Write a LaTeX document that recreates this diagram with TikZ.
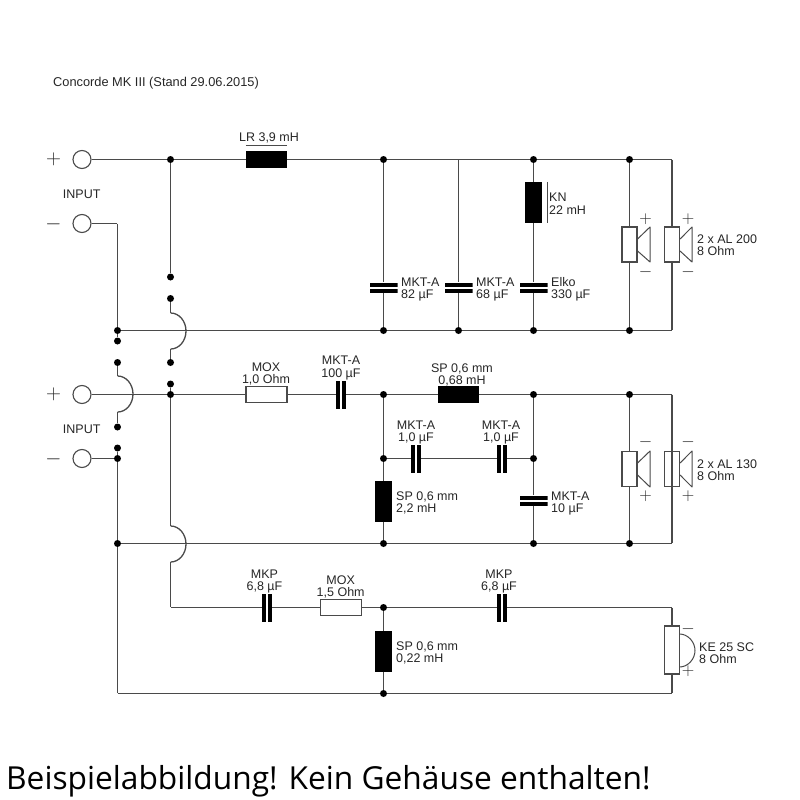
\documentclass[tikz,border=0pt]{standalone}
\usepackage{fontspec}
\setmainfont{Liberation Sans}
\newfontfamily\capfont{Open Sans}
\definecolor{wirec}{HTML}{4A4A4A}
\definecolor{textc}{HTML}{262626}
\tikzset{
  wire/.style={draw=wirec,line width=1.3pt},
  thinline/.style={draw=wirec,line width=1pt},
  jdot/.style={circle,fill=black,draw=none,minimum size=7pt,inner sep=0pt},
  corner/.style={inner sep=0pt,minimum size=0pt},
  term/.style={circle,draw=wirec,line width=1.1pt,fill=white,minimum size=18pt,inner sep=0pt},
  res/.style={rectangle,draw=wirec,line width=1.1pt,fill=white,minimum width=41pt,minimum height=16pt,inner sep=0pt},
  coilh/.style={rectangle,fill=black,minimum width=41pt,minimum height=17pt,inner sep=0pt},
  coilv/.style={rectangle,fill=black,minimum width=17pt,minimum height=41pt,inner sep=0pt},
  caph/.style={rectangle,fill=white,minimum width=10pt,minimum height=28pt,inner sep=0pt,
    path picture={\fill[black] (path picture bounding box.south west) rectangle ([xshift=4pt]path picture bounding box.north west);
      \fill[black] (path picture bounding box.south east) rectangle ([xshift=-4pt]path picture bounding box.north east);}},
  capv/.style={rectangle,fill=white,minimum width=28pt,minimum height=10pt,inner sep=0pt,
    path picture={\fill[black] (path picture bounding box.south west) rectangle ([yshift=4pt]path picture bounding box.south east);
      \fill[black] (path picture bounding box.north west) rectangle ([yshift=-4pt]path picture bounding box.north east);}},
  spk/.style={rectangle,draw=wirec,line width=1.1pt,fill=white,minimum width=15pt,minimum height=35pt,inner sep=0pt},
  tw/.style={rectangle,draw=wirec,line width=1.1pt,fill=white,minimum width=15pt,minimum height=48pt,inner sep=0pt},
  cone/.style={draw=wirec,line width=1pt,line join=round},
  lbl/.style={text=textc,inner sep=0pt,font=\fontsize{12.5}{12.4}\selectfont},
  lleft/.style={lbl,align=left,anchor=west,yshift=-1.2pt},
  lcent/.style={lbl,align=center,anchor=center,yshift=-1.2pt},
  sgnbig/.style={text=textc,inner sep=0pt,font=\fontsize{22.5}{24}\selectfont},
  sgn/.style={text=textc,inner sep=0pt,font=\fontsize{17}{18}\selectfont},
}
\begin{document}
\begin{tikzpicture}[x=1pt,y=-1pt]
\useasboundingbox (0,0) rectangle (800,800);
% terminals
\node[term] (ip1) at (82,159.5) {};
\node[term] (im1) at (82,223.5) {};
\node[term] (ip2) at (82,394.5) {};
\node[term] (im2) at (82,458.5) {};
% junctions
\node[jdot] (d1) at (170.5,159.5) {};
\node[jdot] (d2) at (170.5,277) {};
\node[jdot] (d3) at (170.5,298.5) {};
\node[jdot] (d4) at (170.5,362.5) {};
\node[jdot] (d5) at (170.5,384) {};
\node[jdot] (d6) at (170.5,394.5) {};
\node[jdot] (a1) at (117.5,330.5) {};
\node[jdot] (a2) at (117.5,341) {};
\node[jdot] (a3) at (117.5,362.5) {};
\node[jdot] (a4) at (117.5,427) {};
\node[jdot] (a5) at (117.5,448) {};
\node[jdot] (a6) at (117.5,458.5) {};
\node[jdot] (a7) at (117.5,543.5) {};
\node[jdot] (t1) at (383.5,159.5) {};
\node[jdot] (t3) at (533.5,159.5) {};
\node[jdot] (t4) at (629.5,159.5) {};
\node[jdot] (b1) at (383.5,330.5) {};
\node[jdot] (b2) at (458.5,330.5) {};
\node[jdot] (b3) at (533.5,330.5) {};
\node[jdot] (b4) at (629.5,330.5) {};
\node[jdot] (m1) at (383.5,394.5) {};
\node[jdot] (m2) at (533.5,394.5) {};
\node[jdot] (m3) at (629.5,394.5) {};
\node[jdot] (n1) at (383.5,458.5) {};
\node[jdot] (n2) at (533.5,458.5) {};
\node[jdot] (u1) at (383.5,543.5) {};
\node[jdot] (u2) at (533.5,543.5) {};
\node[jdot] (u3) at (629.5,543.5) {};
\node[jdot] (v1) at (383.5,607.5) {};
\node[jdot] (v2) at (383.5,693.5) {};
% corners
\node[corner] (c0) at (117.5,223.5) {};
\node[corner] (t2) at (458.5,159.5) {};
\node[corner] (tr) at (672,159.5) {};
\node[corner] (br) at (672,330.5) {};
\node[corner] (mr) at (672,394.5) {};
\node[corner] (ur) at (672,543.5) {};
\node[corner] (vl) at (170.5,607.5) {};
\node[corner] (vr) at (672,607.5) {};
\node[corner] (wl) at (117.5,693.5) {};
\node[corner] (wr) at (672,693.5) {};
\node[corner] (h1s) at (170.5,313) {};
\node[corner] (h1e) at (170.5,349) {};
\node[corner] (h2s) at (117.5,376) {};
\node[corner] (h2e) at (117.5,412) {};
\node[corner] (h3s) at (170.5,526) {};
\node[corner] (h3e) at (170.5,562) {};
% components
\node[coilh] (L1) at (266.5,159.5) {};
\node[coilv] (L2) at (533.5,202.5) {};
\node[capv] (C1) at (383.5,287.5) {};
\node[capv] (C2) at (458.5,287.5) {};
\node[capv] (C3) at (533.5,287.5) {};
\node[res] (R1) at (266.5,394.5) {};
\node[caph] (C4) at (341,394.5) {};
\node[coilh] (L3) at (458.5,394.5) {};
\node[caph] (C5) at (416,458.5) {};
\node[caph] (C6) at (502,458.5) {};
\node[coilv] (L4) at (383.5,501.5) {};
\node[capv] (C7) at (533.5,500.5) {};
\node[caph] (C8) at (267,607.5) {};
\node[res] (R2) at (341,607.5) {};
\node[caph] (C9) at (502,607.5) {};
\node[coilv] (L5) at (383.5,651.5) {};
\node[spk] (S1) at (629.5,244.5) {};
\node[spk] (S2) at (672,244.5) {};
\node[spk] (S3) at (629.5,469) {};
\node[spk] (S4) at (672,469) {};
\node[tw] (T1) at (672,650) {};
% wires
\draw[wire] (ip1) -- (d1) -- (L1) -- (t1) -- (t3) -- (t4) -- (tr) -- (S2) -- (br);
\draw[wire] (im1) -- (c0) -- (a1) -- (b1) -- (b2) -- (b3) -- (b4) -- (br);
\draw[wire] (a1) -- (a2);
\draw[wire] (d1) -- (d2);
\draw[wire] (t1) -- (C1) -- (b1);
\draw[wire] (t2) -- (C2) -- (b2);
\draw[wire] (t3) -- (L2) -- (C3) -- (b3);
\draw[wire] (t4) -- (S1) -- (b4);
\draw[wire] (d3) -- (h1s);
\draw[wire] (h1s) .. controls (179,313) and (186,321) .. (186,331) .. controls (186,341) and (179,349) .. (h1e);
\draw[wire] (h1e) -- (d4);
\draw[wire] (a3) -- (h2s);
\draw[wire] (h2s) .. controls (126,376) and (133,384) .. (133,394) .. controls (133,404) and (126,412) .. (h2e);
\draw[wire] (h2e) -- (a4);
\draw[wire] (ip2) -- (d6) -- (R1) -- (C4) -- (m1) -- (L3) -- (m2) -- (m3) -- (mr) -- (ur);
\draw[wire] (d5) -- (d6) -- (h3s);
\draw[wire] (h3s) .. controls (179,526) and (186,534) .. (186,544) .. controls (186,554) and (179,562) .. (h3e);
\draw[wire] (h3e) -- (vl) -- (C8) -- (R2) -- (v1) -- (C9) -- (vr) -- (T1) -- (wr) -- (v2) -- (wl) -- (a7) -- (a6) -- (a5);
\draw[wire] (v1) -- (L5) -- (v2);
\draw[wire] (im2) -- (a6);
\draw[wire] (a7) -- (u1) -- (u2) -- (u3) -- (ur);
\draw[wire] (m1) -- (n1) -- (L4) -- (u1);
\draw[wire] (n1) -- (C5) -- (C6) -- (n2);
\draw[wire] (m2) -- (n2) -- (C7) -- (u2);
\draw[wire] (m3) -- (S3) -- (u3);
\draw[wire] (mr) -- (S4) -- (ur);
% coil markers
\draw[thinline] ([yshift=5pt]L1.north west) -- ([yshift=5pt]L1.north east);
\draw[thinline] ([xshift=5pt]L2.north east) -- ([xshift=5pt]L2.south east);
% drivers
\draw[cone] (S1.east |- 0,239) -- (650,227) -- (650,262) -- (S1.east |- 0,251);
\draw[cone] (S2.east |- 0,239) -- (692,227) -- (692,262) -- (S2.east |- 0,251);
\draw[cone] (S3.east |- 0,463) -- (650,451) -- (650,487) -- (S3.east |- 0,475);
\draw[cone] (S4.east |- 0,463) -- (692,451) -- (692,487) -- (S4.east |- 0,475);
\draw[cone] (679.5,634) .. controls (688,634) and (695,642) .. (695,650.5) .. controls (695,659) and (688,667) .. (679.5,667);
% signs
\node[sgnbig] at (53.5,159.5) {$+$};
\node[sgnbig] at (53.5,224.5) {$-$};
\node[sgnbig] at (53.5,394.5) {$+$};
\node[sgnbig] at (53.5,459) {$-$};
\node[sgn] at (645.5,219) {$+$};
\node[sgn] at (688,219) {$+$};
\node[sgn] at (645.5,272) {$-$};
\node[sgn] at (688,272) {$-$};
\node[sgn] at (645.5,442) {$-$};
\node[sgn] at (688,442) {$-$};
\node[sgn] at (645.5,496) {$+$};
\node[sgn] at (688,496) {$+$};
\node[sgn] at (688,629) {$-$};
\node[sgn] at (688,671) {$+$};
% labels
\node[lbl,anchor=west,font=\fontsize{12.8}{12.2}\selectfont] (title) at (53,83.5) {Concorde MK III (Stand 29.06.2015)};
\node[lbl] (i1) at (81.7,194.5) {INPUT};
\node[lbl] (i2) at (81.7,429.7) {INPUT};
\node[lbl] at (269,137.5) {LR 3,9 mH};
\node[lleft] at (401,288) {MKT-A\\82 µF};
\node[lleft] at (476,288) {MKT-A\\68 µF};
\node[lleft] at (551,288) {Elko\\330 µF};
\node[lleft] at (549,202.5) {KN\\22 mH};
\node[lleft] at (697,244) {2 x AL 200\\8 Ohm};
\node[lcent] at (266,372.5) {MOX\\1,0 Ohm};
\node[lcent] at (341,366.7) {MKT-A\\100 µF};
\node[lcent] at (462,373.5) {SP 0,6 mm\\0,68 mH};
\node[lcent] at (416,431) {MKT-A\\1,0 µF};
\node[lcent] at (501,431) {MKT-A\\1,0 µF};
\node[lleft] at (396,502) {SP 0,6 mm\\2,2 mH};
\node[lleft] at (551,502) {MKT-A\\10 µF};
\node[lleft] at (697,469) {2 x AL 130\\8 Ohm};
\node[lcent] at (264.5,580) {MKP\\6,8 µF};
\node[lcent] at (340.7,586) {MOX\\1,5 Ohm};
\node[lcent] at (499,580) {MKP\\6,8 µF};
\node[lleft] at (396,651.7) {SP 0,6 mm\\0,22 mH};
\node[lleft] at (699,652) {KE 25 SC\\8 Ohm};
\node[anchor=base west,inner sep=0pt,text=black,font=\capfont\fontsize{31.7}{33}\selectfont] (cap) at (6,789.5) {Beispielabbildung! Kein Gehäuse enthalten!};
\end{tikzpicture}
\end{document}
